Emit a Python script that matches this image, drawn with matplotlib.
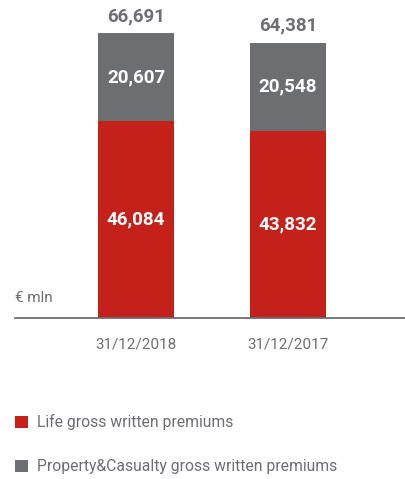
import matplotlib
matplotlib.use("Agg")
import matplotlib.pyplot as plt
from matplotlib.patches import Patch

categories = ["31/12/2018", "31/12/2017"]
life = [46084, 43832]
pc = [20607, 20548]
totals = [66691, 64381]
series_names = ["Life gross written premiums", "Property&Casualty gross written premiums"]
unit_label = "€ mln"

RED = "#c4211b"
GRAY = "#6d6e72"
W, H = 406, 479
plt.rcParams['font.family'] = ['Roboto', 'DejaVu Sans']

fig = plt.figure(figsize=(W / 100, H / 100), dpi=100)
base_y = 318
ax = fig.add_axes([15 / W, 1 - base_y / H, (W - 15) / W, base_y / H])

x = list(range(len(categories)))
ax.bar(x, life, width=0.5, color=RED, zorder=2)
ax.bar(x, pc, bottom=life, width=0.5, color=GRAY, zorder=2)

for i in x:
    ax.text(i, life[i] / 2, f"{life[i]:,}", ha='center', va='center', color='white',
            fontsize=13.5, fontweight='bold')
    ax.text(i, life[i] + pc[i] / 2, f"{pc[i]:,}", ha='center', va='center', color='white',
            fontsize=13.5, fontweight='bold')
    ax.annotate(f"{totals[i]:,}", xy=(i, totals[i]), xytext=(0, 17), textcoords='offset pixels',
                ha='center', va='center', color=GRAY, fontsize=13.5, fontweight='bold')

ax.set_xlim(-121 / 152, 270 / 152)
ax.set_ylim(0, 66691 * base_y / 285)
ax.set_xticks(x)
ax.set_xticklabels(categories, fontsize=11, color=GRAY)
ax.tick_params(axis='x', length=0, pad=14)
ax.set_yticks([])
for s in ['top', 'left', 'right']:
    ax.spines[s].set_visible(False)
ax.spines['bottom'].set_color(GRAY)
ax.spines['bottom'].set_linewidth(1.3)
ax.patch.set_alpha(0)

ax.text(0, (base_y - 298) / base_y, unit_label, transform=ax.transAxes,
        ha='left', va='center', fontsize=11, color=GRAY)

handles = [Patch(facecolor=RED, edgecolor='none'), Patch(facecolor=GRAY, edgecolor='none')]
fig.legend(handles, series_names, loc='upper left', bbox_to_anchor=(15 / W, 1 - 414 / H),
           frameon=False, fontsize=11.3, labelcolor=GRAY, handlelength=0.8, handleheight=0.8,
           handletextpad=0.6, labelspacing=1.85, borderpad=0, borderaxespad=0)

fig.savefig("out.png", dpi=100)
